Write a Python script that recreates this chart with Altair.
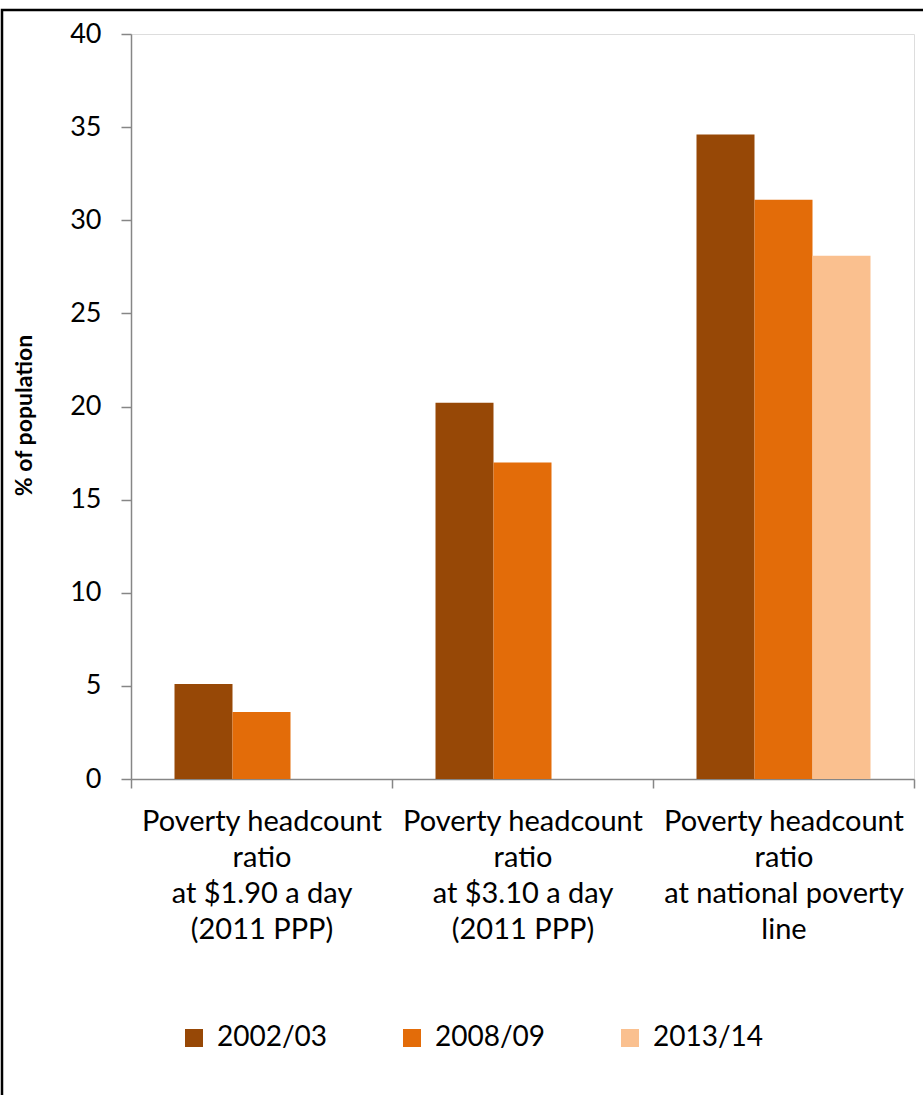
import altair as alt
import pandas as pd

# Poverty indicators, share of population (%)
categories = [
    "Poverty headcount\nratio\nat $1.90 a day\n(2011 PPP)",
    "Poverty headcount\nratio\nat $3.10 a day\n(2011 PPP)",
    "Poverty headcount\nratio\nat national poverty\nline",
]
periods = ["2002/03", "2008/09", "2013/14"]
colors = ["#974806", "#E36C09", "#FAC08F"]

values_2002 = [5.1, 20.2, 34.6]
values_2008 = [3.6, 17.0, 31.1]
values_2013 = [None, None, 28.1]

rows = []
for period, series in zip(periods, [values_2002, values_2008, values_2013]):
    for cat, v in zip(categories, series):
        if v is not None:
            rows.append({"indicator": cat, "period": period, "value": v})
df = pd.DataFrame(rows)

FONT = "Lato"
AXIS_GREY = "#868686"

bars = alt.Chart(df).mark_bar().encode(
    x=alt.X(
        "indicator:N",
        sort=categories,
        scale=alt.Scale(paddingInner=0, paddingOuter=0),
        axis=alt.Axis(
            title=None,
            labelAngle=0,
            labelExpr="split(datum.label, '\\n')",
            labelFontSize=29,
            labelLineHeight=36,
            labelPadding=19,
            labelLimit=400,
            tickBand="extent",
            tickSize=9,
            tickColor=AXIS_GREY,
            domainColor=AXIS_GREY,
            domainWidth=1.5,
            tickWidth=1.5,
            labelColor="black",
        ),
    ),
    xOffset=alt.XOffset(
        "period:N",
        sort=periods,
        scale=alt.Scale(domain=periods, paddingInner=0, paddingOuter=0.75),
    ),
    y=alt.Y(
        "value:Q",
        scale=alt.Scale(domain=[0, 40], nice=False),
        axis=alt.Axis(
            title="% of  population",
            titleFontSize=23,
            titleFontWeight="bold",
            titleColor="black",
            titleX=-107,
            titleY=381,
            titleBaseline="middle",
            values=[0, 5, 10, 15, 20, 25, 30, 35, 40],
            grid=False,
            labelFontSize=27,
            labelPadding=20,
            labelColor="black",
            tickSize=10,
            tickColor=AXIS_GREY,
            domainColor=AXIS_GREY,
            domainWidth=1.5,
            tickWidth=1.5,
        ),
    ),
    color=alt.Color(
        "period:N",
        sort=periods,
        scale=alt.Scale(domain=periods, range=colors),
        legend=alt.Legend(
            title=None,
            orient="none",
            direction="horizontal",
            legendX=49,
            legendY=990,
            symbolType="square",
            symbolSize=324,
            symbolStrokeWidth=0,
            symbolOpacity=1,
            labelFontSize=28,
            labelColor="black",
            labelOffset=9,
            columnPadding=70,
        ),
    ),
)

# Outer frame around the whole figure
frame = alt.Chart(alt.Data(values=[{}])).mark_rect(
    fill=None, stroke="black", strokeWidth=2.5, clip=False
).encode(
    x=alt.value(-129),
    x2=alt.value(800),
    y=alt.value(-24),
    y2=alt.value(1070),
)

chart = alt.layer(bars, frame).properties(
    width=783,
    height=745,
    padding={"left": 131, "top": 34, "right": 9, "bottom": 316},
    autosize=alt.AutoSizeParams(type="none"),
    background="white",
).configure_view(stroke=None).configure(font=FONT)

chart.save("out.html", embed_options={"renderer": "svg", "actions": False})
